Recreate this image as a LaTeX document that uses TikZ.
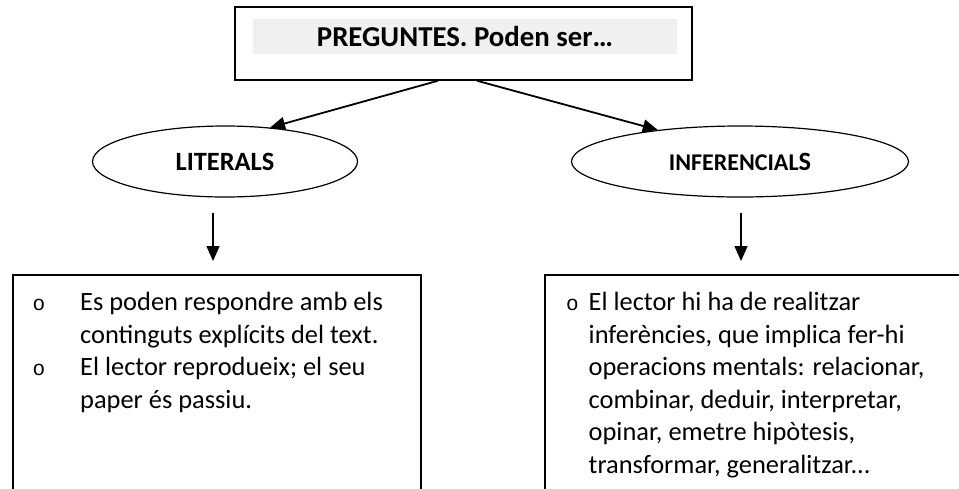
\documentclass[tikz,border=0pt]{standalone}
\usepackage{fontspec}
\setmainfont{Carlito}
\newfontfamily\bulletfont{Liberation Mono}
\usetikzlibrary{shapes.geometric,arrows.meta}

\newcommand\listbullet{{\bulletfont\fontsize{21}{21}\selectfont o}}

\tikzset{
  titlebox/.style={draw, line width=1.5pt, minimum width=457pt, minimum height=73pt, inner sep=0pt},
  titleband/.style={fill=gray!12, minimum width=424pt, minimum height=35pt, inner sep=0pt,
    font=\bfseries\fontsize{28.8}{32}\selectfont},
  kindoval/.style={ellipse, draw, line width=1.2pt, minimum height=71pt, inner sep=0pt,
    font=\bfseries\fontsize{26.4}{30}\selectfont},
  listbox/.style={draw, line width=1.8pt, anchor=north west, inner sep=0pt, minimum height=240pt},
  listtext/.style={anchor=north west, inner sep=0pt, align=left, font=\fontsize{26.4}{32.5}\selectfont},
  arr/.style={-{Triangle[length=15pt,width=13pt]}, line width=1.8pt},
}

\begin{document}
\begin{tikzpicture}[x=1pt,y=-1pt]
  \useasboundingbox (0,0) rectangle (959,488);
  \clip (0,0) rectangle (959,488);

  \node[titlebox] (preguntes) at (463.5,43.5) {};
  \node[titleband] (titol) at (465,36.5) {PREGUNTES. Poden ser…};

  \node[kindoval, minimum width=265pt] (literals) at (225,161.5) {LITERALS};
  \node[kindoval, minimum width=337pt] (inferencials) at (740,161.5)
    {{\fontsize{24}{30}\selectfont INFERENCIAL}S};

  \draw[arr] ([xshift=-25.5pt]preguntes.south) -- (literals.37);
  \draw[arr] ([xshift=13.5pt]preguntes.south) -- (inferencials.159);

  \coordinate (litA) at (213,213);
  \coordinate (litB) at (213,261);
  \coordinate (infA) at (741,213);
  \coordinate (infB) at (741,261);
  \draw[arr, line width=1.3pt] (litA) -- (litB);
  \draw[arr, line width=1.3pt] (infA) -- (infB);

  \node[listbox, minimum width=408pt] (boxlit) at (12,274) {};
  \node[listbox, minimum width=440pt] (boxinf) at (544,274) {};

  \node[listtext] (litlist) at (32.5,287.8) {%
    \begin{tabular}{@{}p{47.5pt}@{}l@{}}
      \listbullet & Es poden respondre amb els\\
                  & continguts explícits del text.\\
      \listbullet & El lector reprodueix; el seu\\
                  & paper és passiu.
    \end{tabular}};
  \node[listtext] (inflist) at (566,287.8) {%
    \begin{tabular}{@{}p{22.5pt}@{}l@{}}
      \listbullet & El lector hi ha de realitzar\\
                  & inferències, que implica fer-hi\\
                  & operacions mentals: relacionar,\\
                  & combinar, deduir, interpretar,\\
                  & opinar, emetre hipòtesis,\\
                  & transformar, generalitzar...
    \end{tabular}};
\end{tikzpicture}
\end{document}
